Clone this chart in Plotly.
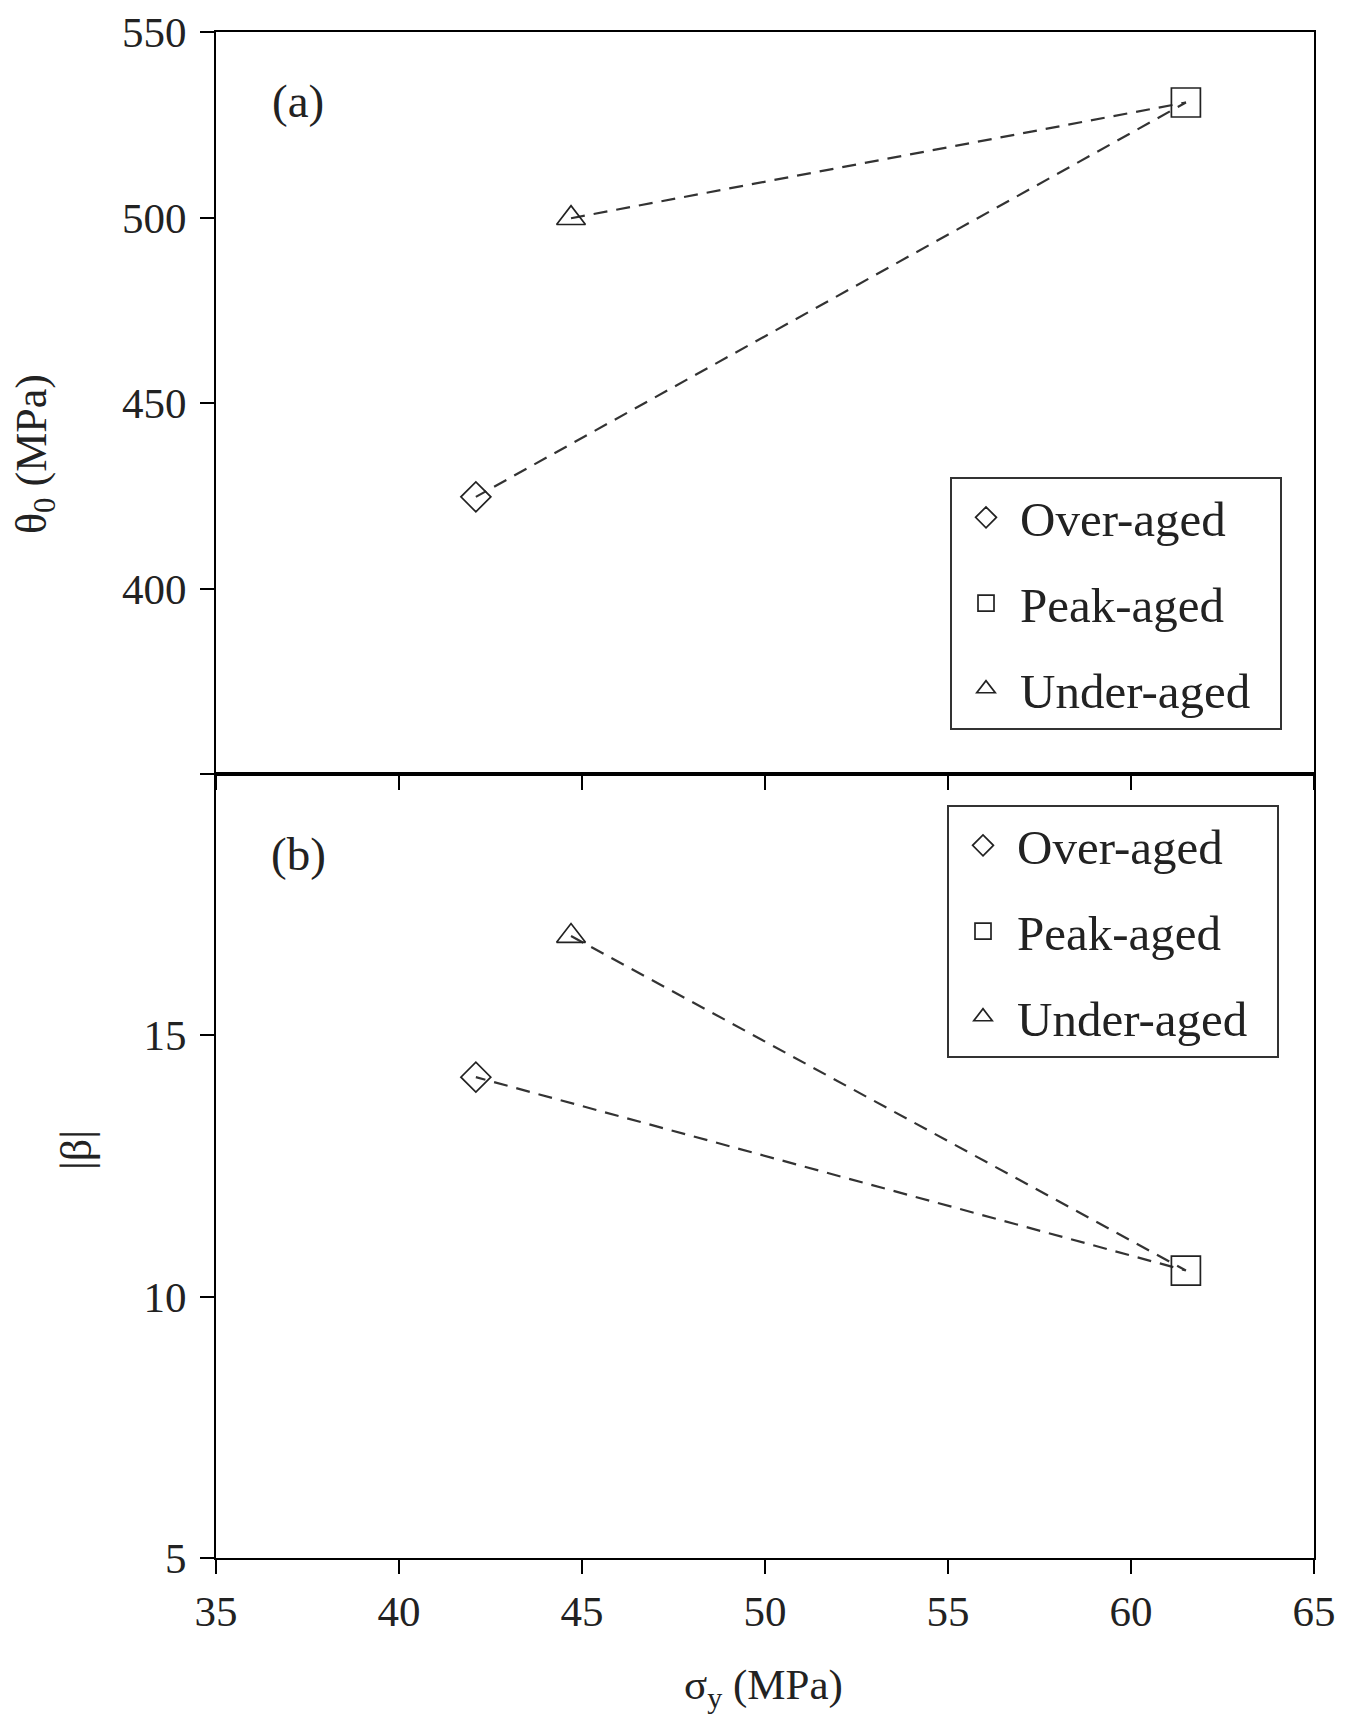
import plotly.graph_objects as go

# ---- data ----
categories = ["Over-aged", "Peak-aged", "Under-aged"]
sigma_y = [42.1, 61.5, 44.7]           # x values (MPa)
theta0 = [424.7, 531.0, 499.8]         # panel (a) y values (MPa)
beta_abs = [14.2, 10.5, 16.9]          # panel (b) y values
x_ticks = [35, 40, 45, 50, 55, 60, 65]
theta_ticks = [400, 450, 500, 550]
theta_minor = [350]
beta_ticks = [5, 10, 15]
# connection order of dashed line: Under -> Peak -> Over
line_order = [2, 1, 0]

symbols = {"Over-aged": "diamond-open", "Peak-aged": "square-open", "Under-aged": "triangle-up-open"}
sizes = {"Over-aged": 23, "Peak-aged": 29, "Under-aged": 25}

FONT = "Liberation Serif, Times New Roman, serif"
INK = "#222222"
PAD = "\u00a0\u00a0"

fig = go.Figure()

for yvals, xa, ya, leg in [(theta0, "x", "y", "legend"), (beta_abs, "x2", "y2", "legend2")]:
    fig.add_trace(go.Scatter(
        x=[sigma_y[i] for i in line_order], y=[yvals[i] for i in line_order],
        mode="lines", line=dict(color="#333333", width=2.2, dash="14px,9px"),
        xaxis=xa, yaxis=ya, showlegend=False, hoverinfo="skip"))
    for i, c in enumerate(categories):
        fig.add_trace(go.Scatter(
            x=[sigma_y[i]], y=[yvals[i]], mode="markers", name=c + PAD,
            marker=dict(symbol=symbols[c], size=sizes[c], color=INK, line=dict(width=1.7, color=INK)),
            xaxis=xa, yaxis=ya, legend=leg, legendgroup=c + leg))

# plot area: top 24, bottom margin 165 -> plot height 1526
split = 784 / 1526

axis_common = dict(showline=True, linecolor="black", linewidth=2, mirror=True, automargin=False,
                   showgrid=False, zeroline=False, ticks="outside", ticklen=14, tickwidth=2,
                   tickcolor="black", ticklabeloverflow="allow",
                   tickfont=dict(family=FONT, size=43, color=INK))

legend_common = dict(xanchor="left", yanchor="top", bordercolor="#333", borderwidth=2, bgcolor="white",
                     font=dict(family=FONT, size=49, color=INK), tracegroupgap=19, itemwidth=58)

fig.update_layout(
    template="none",
    width=1330, height=1715,
    margin=dict(l=208, r=24, t=24, b=165),
    paper_bgcolor="white", plot_bgcolor="white",
    font=dict(family=FONT, color=INK),
    xaxis=dict(domain=[0, 1], anchor="y", range=[35, 65], tickvals=x_ticks,
               showticklabels=False, **axis_common),
    yaxis=dict(domain=[split, 1], anchor="x", range=[350, 550], tickvals=theta_ticks,
               ticklabelstandoff=5,
               minor=dict(tickvals=theta_minor, ticks="outside", ticklen=14, tickwidth=2,
                          tickcolor="black", showgrid=False),
               **axis_common),
    xaxis2=dict(domain=[0, 1], anchor="y2", range=[35, 65], tickvals=x_ticks,
                ticklabelstandoff=0, **axis_common),
    yaxis2=dict(domain=[0, split], anchor="x2", range=[5, 20], tickvals=beta_ticks,
                ticklabelstandoff=5, **axis_common),
    legend=dict(x=(950 - 216) / 1098, y=(1556 - 475) / 1526, **legend_common),
    legend2=dict(x=(947 - 216) / 1098, y=(1556 - 803) / 1526, **legend_common),
    showlegend=True,
)

ann_font = dict(family=FONT, size=44, color=INK)
fig.add_annotation(text="(a)", xref="paper", yref="paper", x=(298 - 216) / 1098, y=(1556 - 99) / 1526,
                   showarrow=False, font=dict(family=FONT, size=47, color=INK), xanchor="center", yanchor="middle")
fig.add_annotation(text="(b)", xref="paper", yref="paper", x=(298 - 216) / 1098, y=(1556 - 852) / 1526,
                   showarrow=False, font=dict(family=FONT, size=47, color=INK), xanchor="center", yanchor="middle")
fig.add_annotation(text="θ<sub>0</sub> (MPa)", xref="paper", yref="paper", x=(34 - 216) / 1098,
                   y=(1556 - 452) / 1526, showarrow=False, textangle=-90, font=ann_font,
                   xanchor="center", yanchor="middle")
fig.add_annotation(text="|β|", xref="paper", yref="paper", x=(76 - 216) / 1098,
                   y=(1556 - 1148) / 1526, showarrow=False, textangle=-90, font=ann_font,
                   xanchor="center", yanchor="middle")
fig.add_annotation(text="σ<sub>y</sub> (MPa)", xref="paper", yref="paper", x=(763 - 216) / 1098,
                   y=(1556 - 1686) / 1526, showarrow=False, font=dict(family=FONT, size=43, color=INK),
                   xanchor="center", yanchor="middle")

fig.write_html("out.html")
